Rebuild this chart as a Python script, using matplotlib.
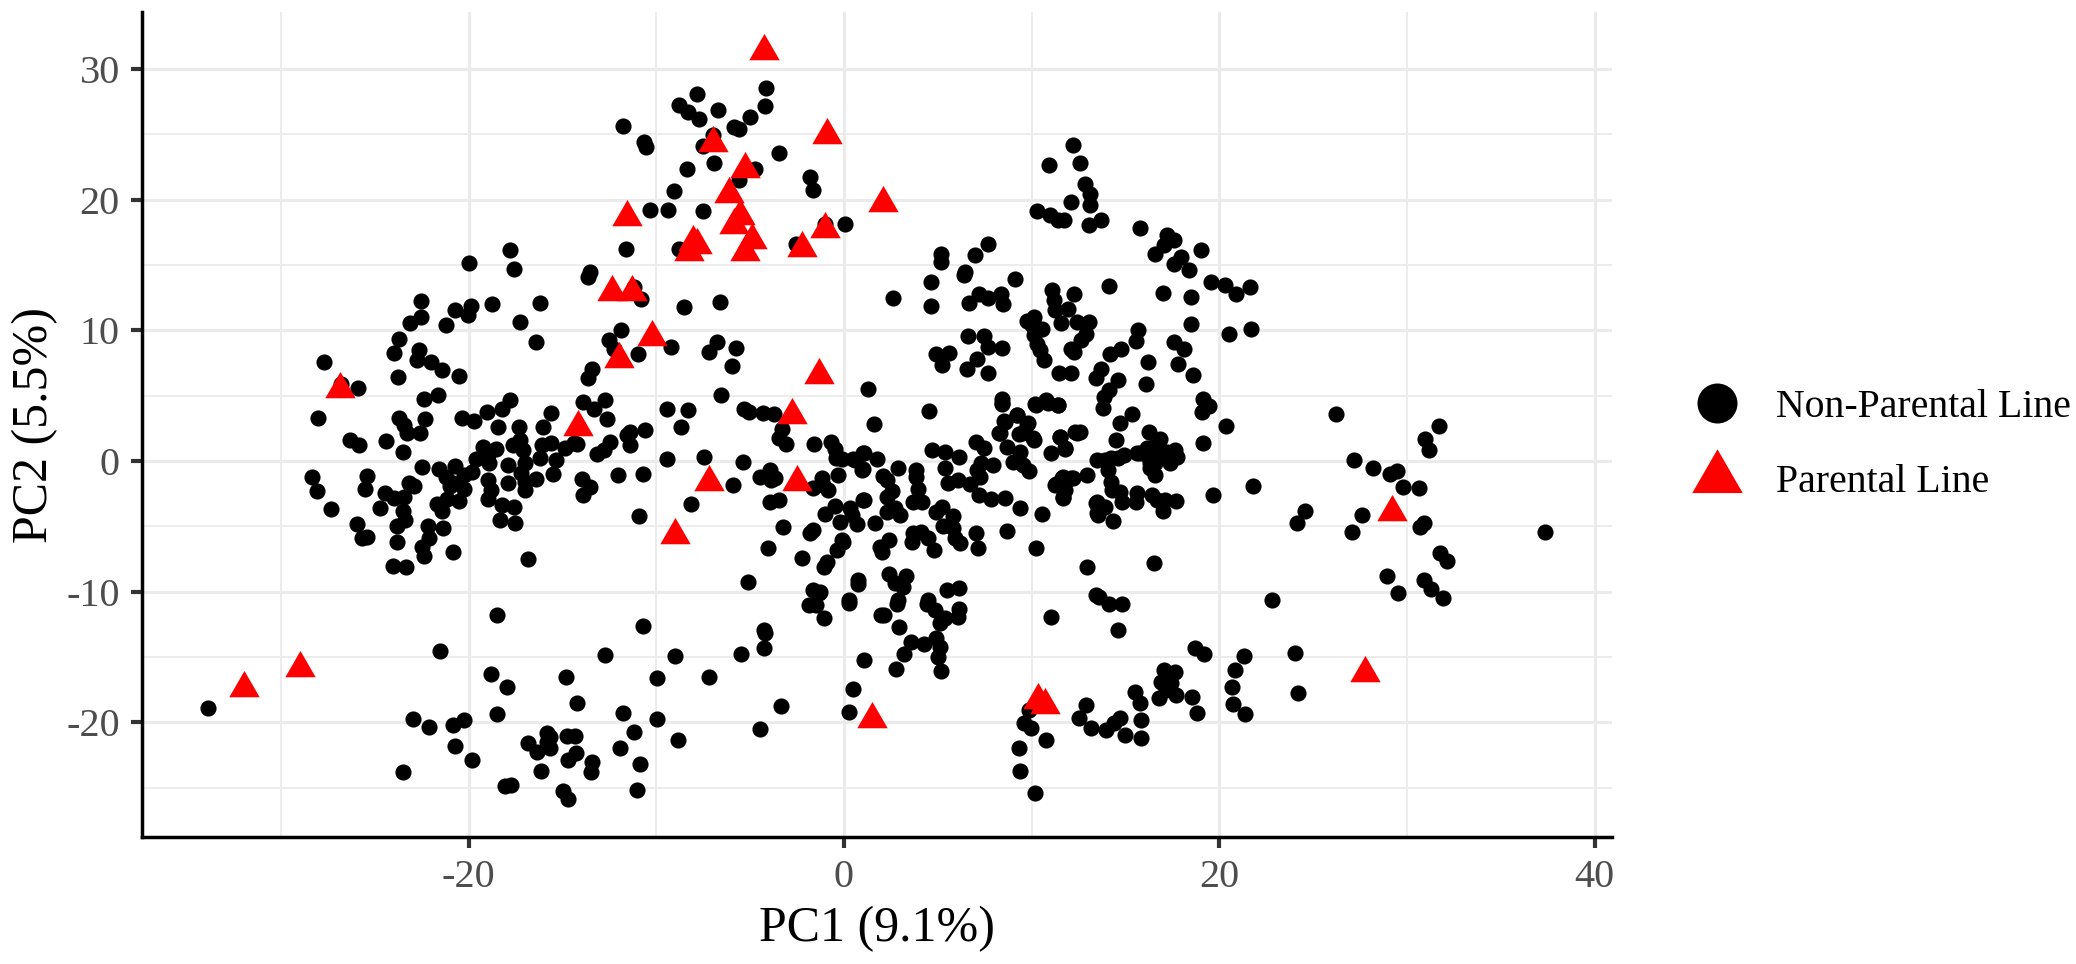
"""
PCA of lines: PC1 vs PC2, parental lines marked in red.
Out: out.png
"""
import numpy as np
import matplotlib.pyplot as plt
from matplotlib.lines import Line2D

plt.rcParams["font.family"] = ["Liberation Serif", "DejaVu Serif"]

# non-parental lines, read off the picture cluster by cluster
left_pc1 = [-28.03, -22.4, -21.65, -17.8, -18.24, -19.0, -20.37, -19.7, -23.7, -22.33,
            -23.46, -23.3, -22.6, -18.45, -15.63, -16.06, -17.3, -26.32, -25.82, -24.4,
            -23.52, -19.22, -18.54, -17.62, -17.27, -17.09, -16.1, -15.63, -16.2, -15.35,
            -14.87, -14.4, -19.6, -18.95, -18.9, -17.9, -17.0, -22.5, -21.56, -20.73,
            -19.84, -20.23, -21.2, -17.23, -15.5, -16.41, -18.95, -28.35, -28.1, -25.42,
            -25.52, -23.2, -22.9, -21.0, -20.85, -20.25, -18.83, -17.88, -17.0, -17.0,
            -24.46, -24.0, -23.46, -24.72, -23.52, -18.95, -20.5, -21.17, -21.7, -21.44,
            -27.34, -18.24, -17.58, -18.3, -17.53, -23.4, -23.8, -22.15, -21.38, -25.95,
            -25.4, -25.67, -23.84, -22.1, -22.5, -22.38, -20.85, -16.86, -24.05, -23.34]
left_pc2 = [3.32, 4.74, 5.05, 4.67, 3.95, 3.78, 3.32, 3.06, 3.27, 3.19,
            2.76, 2.12, 2.17, 2.63, 3.65, 2.63, 2.63, 1.61, 1.22, 1.56,
            0.71, 1.1, 0.89, 1.22, 1.6, 0.84, 1.22, 1.35, 0.2, 0.08,
            0.97, 1.35, 0.13, 0.46, -0.18, -0.3, -0.13, -0.43, -0.64, -0.38,
            -0.82, -1.07, -1.2, -0.94, -1.02, -1.4, -1.45, -1.25, -2.3, -1.12,
            -2.14, -1.66, -1.91, -1.91, -1.71, -2.17, -2.22, -1.66, -2.22, -1.58,
            -2.47, -2.86, -2.73, -3.57, -3.8, -2.93, -3.04, -2.93, -3.29, -3.8,
            -3.67, -3.37, -3.55, -4.52, -4.77, -4.52, -4.97, -4.95, -5.15, -4.85,
            -5.84, -5.92, -6.22, -5.92, -6.56, -7.27, -6.96, -7.47, -8.01, -8.14]

upper_left_pc1 = [-27.7, -26.8, -25.9, -23.77, -24.0, -23.7, -23.1, -22.55, -22.55, -22.65,
                  -22.76, -22.0, -21.4, -20.5, -21.2, -20.7, -20.05, -19.87, -20.0, -18.73,
                  -17.77, -17.56, -17.24, -16.4, -16.18]
upper_left_pc2 = [7.55, 5.9, 5.56, 6.43, 8.27, 9.34, 10.56, 11.02, 12.22, 8.52,
                  7.7, 7.58, 6.94, 6.48, 10.38, 11.53, 11.15, 11.89, 15.15, 11.99,
                  16.12, 14.67, 10.61, 9.08, 12.09]

top_pc1 = [-13.55, -13.63, -11.78, -10.64, -10.56, -7.85, -8.78, -8.33, -7.72, -6.71,
           -5.01, -5.86, -5.6, -4.19, -4.14, -6.98, -7.53, -6.9, -8.38, -4.72,
           -5.6, -3.47, -1.8, -1.64, -9.04, -10.34, -9.39, -7.51, -1.0, 0.03,
           -8.78, -11.62, -2.55, -10.82, -11.17, -8.51, -6.6, -11.88, -12.5, -12.23,
           -10.95, -9.23, -6.79, -7.19, -5.73, -5.99, -13.42, -13.63]
top_pc2 = [14.46, 14.08, 25.6, 24.41, 24.03, 28.04, 27.2, 26.7, 26.15, 26.84,
           26.33, 25.56, 25.43, 27.14, 28.57, 24.92, 24.1, 22.83, 22.3, 22.37,
           21.48, 23.6, 21.73, 20.71, 20.64, 19.18, 19.18, 19.13, 18.1, 18.1,
           16.25, 16.2, 16.63, 12.42, 13.3, 11.79, 12.17, 10.05, 9.29, 8.6,
           8.16, 8.72, 9.1, 8.34, 8.67, 7.24, 7.07, 6.38]

mid_pc1 = [-6.53, -13.9, -13.34, -12.73, -12.63, -9.44, -8.33, -8.7, -9.44, -7.48,
           -5.38, -11.38, -10.58, -11.57, -11.38, -12.44, -13.16, -12.76, -14.22, -5.33,
           -5.07, -4.32, -3.74, -3.29, -3.47, -3.08, -1.62, -0.69, -0.48, -0.42,
           -13.96, -13.53, -13.93, -12.06, -10.73, -10.93, -8.15, -5.93, -4.48, -3.94,
           -3.89, -3.68, -3.94, -3.45, -3.23, -4.05, -2.22, -1.63, -1.19, -0.83,
           -1.1, -0.3, -0.39, -0.12, 0.59, 1.03, 0.99, 1.03, -0.48, -1.01,
           0.32, -0.21, 0.67, -1.63, -1.81, -0.04, -0.39, -0.92, -1.07, -5.09,
           0.73]
mid_pc2 = [5.03, 4.52, 4.0, 4.69, 3.19, 3.95, 3.88, 2.6, 0.18, 0.31,
           -0.08, 2.22, 2.35, 1.96, 1.2, 1.45, 0.56, 0.82, 1.33, 4.0,
           3.75, 3.67, 3.57, 2.47, 1.79, 1.33, 1.33, 1.45, 0.94, 0.26,
           -1.4, -1.96, -2.6, -1.07, -1.0, -4.2, -3.29, -1.84, -1.2, -0.69,
           -1.45, -1.33, -3.11, -2.98, -5.03, -6.63, -7.4, -2.09, -1.33, -2.22,
           -1.84, -1.07, 0.33, 0.13, 0.08, 0.59, -0.64, -2.98, -3.44, -4.08,
           -3.62, -4.64, -4.85, -5.28, -5.48, -6.17, -6.81, -7.7, -8.09, -9.26,
           -9.1]

center_pc1 = [1.6, 4.53, 8.4, 10.23, 10.89, 11.42, 0.5, 1.07, 1.78, 0.98,
              2.86, 4.67, 5.38, 6.13, 7.02, 7.46, 7.96, 7.3, 7.07, 7.25,
              5.38, 5.56, 6.09, 6.71, 7.21, 7.82, 8.58, 9.38, 10.53, 8.67,
              10.23, 12.93, 8.28, 8.58, 9.2, 9.82, 9.47, 10.09, 8.67, 9.38,
              9.02, 9.55, 9.87, 11.51, 11.78, 11.01, 12.31, 12.58, 2.1, 2.27,
              2.54, 2.31, 3.84, 3.84, 3.96, 3.66, 4.14, 12.93, 12.18, 11.69,
              11.3, 11.78, 11.69, 13.43, 13.46, 1.07, 0.41, 1.65, 2.31, 2.72,
              2.98, 5.2, 4.9, 5.83, 5.29, 5.79, 7.03, 7.16, 5.91, 6.18,
              -0.12, 2.42, 1.92, 2.0, 3.66, 4.09, 3.61, 4.49, 4.8, 0.73,
              2.42, 3.3, 2.72, 3.16, 5.47, 6.15, -1.63, -1.28, 0.28, 2.86,
              4.46, 13.43]
center_pc2 = [2.83, 3.83, 4.41, 4.29, 4.46, 4.29, 0.13, 0.64, 0.15, -0.69,
              -0.51, 0.84, 0.71, 0.33, 1.48, 1.02, -0.31, -0.13, -0.69, -1.2,
              -0.56, -1.66, -1.45, -1.76, -2.6, -2.93, -2.81, -3.57, -4.06, -5.33,
              -6.63, -8.09, 2.12, 3.01, 3.52, 2.88, 2.12, 1.73, 1.1, 0.71,
              -0.05, -0.31, -0.74, 1.81, 0.97, 0.64, 2.24, 2.24, -1.15, -1.45,
              -2.27, -2.73, -0.69, -1.25, -2.17, -3.11, -3.11, -1.07, -1.33, -1.25,
              -1.79, -2.22, -2.73, -3.19, -4.0, -2.98, -4.13, -4.72, -3.88, -3.62,
              -4.13, -3.55, -3.88, -4.21, -4.97, -5.15, -5.48, -6.68, -5.92, -6.25,
              -6.05, -6.05, -6.56, -6.94, -5.54, -5.41, -6.17, -5.92, -6.81, -9.41,
              -8.65, -8.8, -9.36, -9.67, -9.87, -9.74, -9.87, -10.0, -10.64, -10.64,
              -10.64, -10.26]

lower_left_pc1 = [-1.35, -1.88, -1.49, -1.06, 0.27, 1.96, -10.72, -18.46, -4.24, -4.19,
                  -4.24, -5.46, -8.99, -12.73, -21.51, 1.09, -7.21, -9.97, -14.8, -18.78,
                  -17.93, 0.48, -14.22, -3.34, -11.78, -18.46, -33.87, 0.29, -22.97, -22.12,
                  -20.85, -20.24, -9.97, -4.46, -11.17, -8.86, -15.81, -15.68, -15.81, -15.68,
                  -16.82, -16.34, -14.75, -14.35, -14.27, -14.69, -20.74, -19.84, -11.94, -13.42,
                  -13.47, -10.85, -23.47, -16.13, -18.06, -17.75, -14.96, -14.69, -11.03]
lower_left_pc2 = [-10.13, -11.02, -11.02, -11.99, -10.89, -11.8, -12.6, -11.79, -12.93, -13.19,
                  -14.29, -14.77, -14.92, -14.85, -14.54, -15.23, -16.53, -16.63, -16.53, -16.3,
                  -17.27, -17.45, -18.5, -18.75, -19.31, -19.39, -18.88, -19.18, -19.74, -20.33,
                  -20.2, -19.82, -19.74, -20.5, -20.77, -21.35, -20.84, -21.1, -21.48, -21.99,
                  -21.6, -22.25, -21.05, -21.05, -22.37, -22.88, -21.81, -22.88, -21.94, -23.0,
                  -23.78, -23.19, -23.8, -23.72, -24.87, -24.8, -25.23, -25.89, -25.18]

upper_right_pc1 = [12.2, 10.9, 12.6, 12.84, 13.1, 13.13, 12.12, 10.27, 10.98, 11.4,
                   11.72, 13.05, 13.71, 15.78, 17.19, 17.56, 17.03, 16.55, 19.02, 17.96,
                   17.61, 18.36, 19.55, 20.29, 20.88, 21.64, 16.98, 18.49, 18.49, 20.5,
                   21.7, 15.65, 15.57, 17.56, 18.14, 17.82, 18.62, 16.18, 16.1, 19.15,
                   19.47, 19.1, 20.34, 26.23, 31.7, 30.95, 31.17, 27.16, 28.17, 29.1,
                   29.44, 19.15, 5.15, 5.15, 7.69, 7.0, 4.64, 4.64, 2.63, 6.47,
                   6.37, 9.12, 7.21, 7.69, 8.36, 8.46, 6.68, 11.06, 11.19, 11.25,
                   11.94, 12.25, 14.11, 11.54, 12.39, 13.05, 9.73, 10.13, 10.0, 10.53,
                   10.13, 10.27, 10.45, 10.66, 12.92, 12.65, 12.12, 12.25, 6.63, 7.48,
                   7.69, 8.41, 4.88, 5.62, 5.23, 7.08, 6.55, 7.67, 14.16, 14.77,
                   13.71, 13.45, 11.46, 12.09, 14.59, 14.11, 13.85, 13.79, 1.3, 8.41,
                   8.41, 10.19, 10.74, 11.38, 15.36, 14.7, 16.23, 16.84, 14.51, 12.44,
                   11.51, 11.78, 9.2, 8.54, 8.33, 9.73, 9.34, 10.13]
upper_right_pc2 = [24.16, 22.63, 22.76, 21.22, 20.41, 19.57, 19.82, 19.13, 18.8, 18.42,
                   18.42, 18.04, 18.42, 17.83, 17.27, 16.94, 16.5, 15.87, 16.12, 15.61,
                   15.1, 14.59, 13.7, 13.44, 12.81, 13.32, 12.86, 12.55, 10.51, 9.74,
                   10.08, 10.0, 9.18, 9.11, 8.55, 7.45, 6.56, 7.58, 5.92, 4.77,
                   4.18, 3.75, 2.65, 3.57, 2.65, 1.66, 0.82, 0.05, -0.51, -0.97,
                   -0.77, 1.38, 15.87, 15.23, 16.63, 15.74, 13.7, 11.84, 12.47, 14.46,
                   14.2, 13.95, 12.76, 12.5, 12.8, 12.04, 12.12, 13.06, 12.3, 11.58,
                   11.66, 12.8, 13.39, 10.56, 10.64, 10.64, 10.71, 11.02, 10.38, 10.13,
                   9.62, 8.98, 8.47, 7.76, 9.74, 9.23, 8.6, 8.34, 9.54, 9.57,
                   8.72, 8.65, 8.16, 8.27, 7.32, 7.83, 7.07, 6.73, 8.21, 8.6,
                   7.07, 6.35, 6.73, 6.73, 6.22, 5.41, 4.9, 4.08, 5.54, 4.77,
                   4.39, 4.34, 4.64, 4.26, 3.57, 2.91, 2.22, 1.71, 1.58, 2.17,
                   1.84, 0.94, 3.49, 3.06, 2.14, 2.86, 2.09, 1.63]

knot_pc1 = [16.13, 16.48, 16.84, 17.2, 17.64, 17.73, 17.37, 16.57, 16.31, 16.13,
            16.57, 16.31, 16.57, 17.1, 17.46, 15.77, 14.92, 15.6, 13.46, 14.21,
            13.9, 14.08, 14.62, 21.81, 19.68]
knot_pc2 = [0.97, 1.1, 0.84, 0.71, 0.84, 0.33, -0.18, 0.33, -0.18, 0.46,
            -1.07, -0.56, -0.18, 0.33, 0.46, 0.59, 0.46, 0.59, 0.08, 0.2,
            0.08, -0.69, 0.2, -1.89, -2.6]

right_pc1 = [11.6, 12.1, 11.24, 11.69, 11.65, 14.21, 14.27, 14.71, 14.8, 15.63,
             15.56, 16.39, 16.66, 16.98, 17.1, 17.69, 13.46, 13.9, 13.55, 14.32,
             24.56, 24.12, 16.52, 13.6, 14.12, 14.83, 22.79, 11.03, 14.58, 27.61,
             27.06, 29.76, 30.66, 30.69, 30.9, 37.37, 31.75, 32.15, 28.91, 29.52,
             30.88, 31.27, 31.94]
right_pc2 = [-1.33, -1.33, -1.84, -1.84, -2.86, -1.58, -2.22, -2.35, -3.11, -2.47,
             -3.11, -2.6, -2.98, -3.8, -2.98, -3.04, -3.11, -3.49, -4.13, -4.57,
             -3.8, -4.72, -7.78, -10.38, -10.94, -10.94, -10.64, -11.91, -12.93, -4.13,
             -5.41, -1.96, -2.09, -5.03, -4.77, -5.41, -7.07, -7.63, -8.8, -10.13,
             -9.11, -9.82, -10.48]

lower_right_pc1 = [2.84, 2.12, 2.92, 4.43, 4.83, 5.09, 5.36, 6.07, 6.15, 3.58,
                   4.24, 4.88, 5.09, 5.01, 3.18, 2.79, 5.17, 18.7, 19.2, 21.3,
                   24.03, 20.82, 20.69, 24.19, 20.74, 21.35, 18.81, 18.54, 17.03, 17.64,
                   16.9, 17.43, 16.76, 17.69, 17.16, 15.52, 15.78, 15.84, 15.84, 14.99,
                   12.92, 12.52, 13.18, 13.98, 14.38, 14.72, 9.87, 9.6, 9.95, 10.74,
                   9.34, 9.39, 10.16]
lower_right_pc2 = [-10.94, -11.79, -12.68, -10.97, -11.41, -12.42, -12.04, -11.91, -11.35, -13.83,
                   -14.0, -13.57, -14.2, -14.97, -14.77, -15.92, -16.05, -14.34, -14.77, -14.9,
                   -14.67, -16.0, -17.27, -17.73, -18.6, -19.39, -19.31, -18.08, -16.0, -16.17,
                   -16.89, -17.02, -18.16, -17.9, -17.52, -17.7, -18.54, -19.82, -21.17, -21.0,
                   -18.67, -19.69, -20.41, -20.6, -20.08, -19.69, -19.06, -20.08, -20.46, -21.35,
                   -21.94, -23.73, -25.38]

parental_pc1 = [-4.24, -0.93, -6.98, -5.25, -6.1, 2.1, -11.54, -5.52, -5.86, -1.0,
                -4.91, -2.25, -5.25, -8.06, -7.85, -8.25, -12.36, -11.3, -10.24, -11.96,
                -1.35, -26.84, -2.76, -14.19, -7.19, -2.49, -8.99, -31.99, -28.99, 1.49,
                10.34, 10.72, 27.75, 29.2]
parental_pc2 = [31.4, 24.93, 24.34, 22.37, 20.46, 19.75, 18.7, 18.78, 18.04, 17.71,
                16.91, 16.3, 16.0, 16.79, 16.51, 15.97, 12.94, 12.96, 9.52, 7.83,
                6.61, 5.51, 3.5, 2.6, -1.63, -1.63, -5.69, -17.4, -15.84, -19.77,
                -18.26, -18.67, -16.2, -3.88]

x_ticks = [-20, 0, 20, 40]
x_minor = [-30, -10, 10, 30]
y_ticks = [-20, -10, 0, 10, 20, 30]
y_minor = [-25, -15, -5, 5, 15, 25]

GRID = "#EBEBEB"
TICK_TXT = "#4D4D4D"
# triangle anchored on its centroid, the way ggplot's shape 17 is
TRIANGLE = [(-1, -0.577), (1, -0.577), (0, 1.155)]

non_pc1 = np.concatenate([left_pc1, upper_left_pc1, top_pc1, mid_pc1, center_pc1, lower_left_pc1,
                          upper_right_pc1, knot_pc1, right_pc1, lower_right_pc1])
non_pc2 = np.concatenate([left_pc2, upper_left_pc2, top_pc2, mid_pc2, center_pc2, lower_left_pc2,
                          upper_right_pc2, knot_pc2, right_pc2, lower_right_pc2])

fig = plt.figure(figsize=(20.76, 9.64), dpi=100)
ax = fig.add_axes([142 / 2076, 1 - 837 / 964, (1612 - 142) / 2076, (837 - 12) / 964])

ax.scatter(non_pc1, non_pc2, s=135, color="black", linewidths=0, zorder=3)
ax.scatter(parental_pc1, parental_pc2, s=640, marker=TRIANGLE, color="#FF0000", linewidths=0, zorder=4)

ax.set_xlim(-37.4, 40.92)
ax.set_ylim(-28.77, 34.35)
ax.set_xticks(x_ticks)
ax.set_yticks(y_ticks)
ax.set_xticks(x_minor, minor=True)
ax.set_yticks(y_minor, minor=True)
ax.grid(which="major", color=GRID, linewidth=2.3, zorder=0)
ax.grid(which="minor", color=GRID, linewidth=1.3, zorder=0)
ax.set_axisbelow(True)
ax.spines[["top", "right"]].set_visible(False)
ax.spines[["left", "bottom"]].set_linewidth(2.5)
ax.tick_params(which="major", length=8, width=3, color="#333333", pad=8,
               labelsize=29, labelcolor=TICK_TXT)
ax.tick_params(which="minor", length=0)
ax.xaxis.set_major_formatter(lambda v, pos: f"{v:.0f}")
ax.yaxis.set_major_formatter(lambda v, pos: f"{v:.0f}")
ax.set_xlabel("PC1 (9.1%)", fontsize=36, labelpad=7)
ax.set_ylabel("PC2 (5.5%)", fontsize=36, labelpad=6)

handles = [
    Line2D([], [], linestyle="none", marker="o", markersize=28.8, markerfacecolor="black",
           markeredgewidth=0, label="Non-Parental Line"),
    Line2D([], [], linestyle="none", marker=TRIANGLE, markersize=42, markerfacecolor="#FF0000",
           markeredgewidth=0, label="Parental Line"),
]
fig.legend(handles=handles, loc="center left", bbox_to_anchor=(1677 / 2076, 1 - 445 / 964),
           frameon=False, fontsize=28.6, labelspacing=0.95, handletextpad=0.5, borderpad=0,
           borderaxespad=0)

fig.savefig("out.png", dpi=100, facecolor="white")
